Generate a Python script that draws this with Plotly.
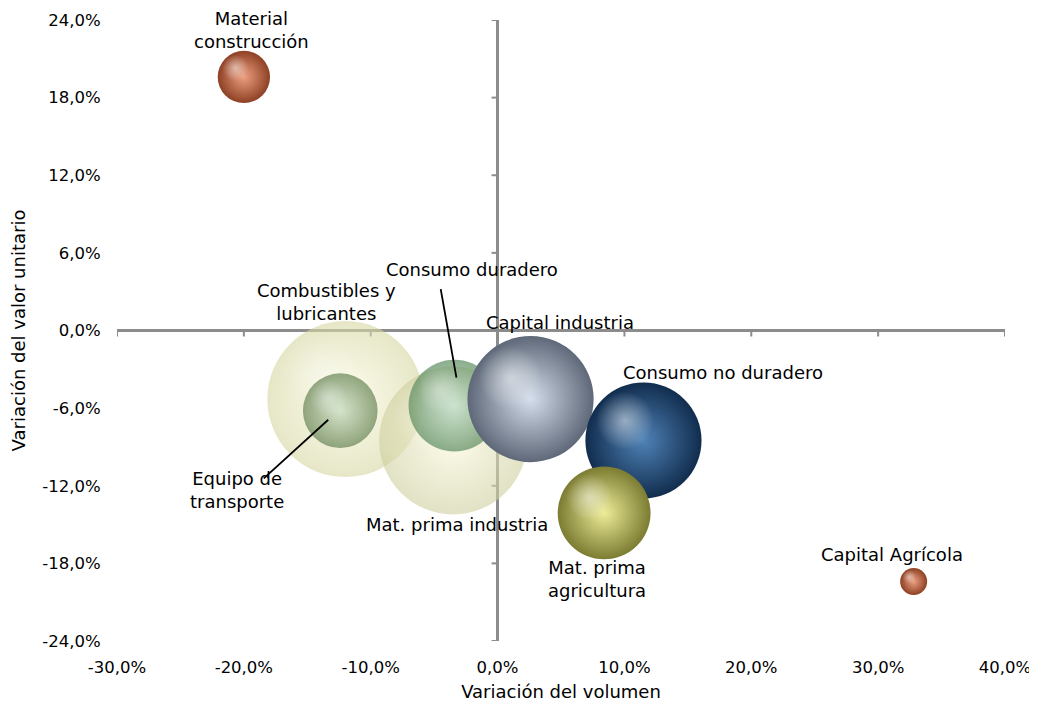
"""
Burbujas: variación del volumen vs variación del valor unitario
"""
import math
import plotly.graph_objects as go

# --- datos ---
categorias = ["Combustibles y lubricantes", "Equipo de transporte", "Mat. prima industria",
              "Consumo duradero", "Capital industria", "Consumo no duradero",
              "Mat. prima agricultura", "Material construcción", "Capital Agrícola"]
etiquetas = ["Combustibles y<br>lubricantes", "Equipo de<br>transporte", "Mat. prima industria",
             "Consumo duradero", "Capital industria", "Consumo no duradero",
             "Mat. prima<br>agricultura", "Material<br>construcción", "Capital Agrícola"]
var_volumen = [-12.0, -12.4, -3.5, -3.4, 2.6, 11.5, 8.4, -20.0, 32.8]
var_valor = [-5.3, -6.2, -8.5, -5.8, -5.3, -8.5, -14.1, 19.6, -19.4]
peso = [24.0, 5.5, 21.6, 8.3, 15.7, 13.3, 8.5, 2.7, 0.72]

x_ticks = [-30, -20, -10, 0, 10, 20, 30, 40]
y_ticks = [-24, -18, -12, -6, 0, 6, 12, 18, 24]

# --- estilo ---
# la página tiene 8px de margen en el body
W, H = 1029, 694
M = dict(l=109, r=32, t=12, b=61)
FONT = "DejaVu Sans"
AXIS_COLOR = "#8c8c8c"

# (color borde, color centro, opacidad)
colores = [
    ("#d6d6a2", "#fbfbe2", 0.6),    # Combustibles
    ("#6f8a5c", "#c8dcc0", 0.75),   # Equipo transporte
    ("#cece9e", "#f8f8dc", 0.6),    # Mat. prima industria
    ("#5a8a5c", "#bcdcc8", 0.7),    # Consumo duradero
    ("#5e6878", "#d4deec", 1.0),    # Capital industria
    ("#112d4e", "#4f82b6", 1.0),    # Consumo no duradero
    ("#7c7c32", "#ecec98", 1.0),    # Mat. prima agricultura
    ("#8e4024", "#eca080", 1.0),    # Material construcción
    ("#8e4024", "#eca080", 1.0),    # Capital Agrícola
]

# desplazamiento del texto respecto del centro de la burbuja (px, y hacia abajo)
offs_texto = [(-19, -97), (-103, 79), (4, 84), (18, -136), (29, -77),
              (80, -68), (-7, 66), (8, -47), (-22, -27)]
# líneas guía: (punta dx, punta dy, ax, ay) respecto del centro
guias = {1: (-12, 9, -66, 60), 3: (2, -28, -16, -90)}

sizeref = 2 * max(peso) / (156 ** 2)
px_x = (W - M["l"] - M["r"]) / (x_ticks[-1] - x_ticks[0])
px_y = (H - M["t"] - M["b"]) / (y_ticks[-1] - y_ticks[0])

fig = go.Figure()

for i, nombre in enumerate(categorias):
    borde, centro, op = colores[i]
    fig.add_trace(go.Scatter(
        x=[var_volumen[i]], y=[var_valor[i]],
        mode='markers', name=nombre,
        marker=dict(size=[peso[i]], sizemode='area', sizeref=sizeref,
                    color=borde, opacity=op, line=dict(width=0),
                    gradient=dict(type='radial', color=centro)),
        hovertemplate=nombre + "<br>Volumen: %{x:.1f}%<br>Valor unitario: %{y:.1f}%<extra></extra>"
    ))
    # brillo
    r = math.sqrt(peso[i] / (2 * sizeref))
    fig.add_trace(go.Scatter(
        x=[var_volumen[i] - 0.32 * r / px_x], y=[var_valor[i] + 0.34 * r / px_y],
        mode='markers', hoverinfo='skip', showlegend=False,
        marker=dict(size=1.0 * r, color='rgba(255,255,255,0)', line=dict(width=0),
                    opacity=op,
                    gradient=dict(type='radial', color='rgba(255,255,255,0.5)'))
    ))

# etiquetas
for i, txt in enumerate(etiquetas):
    dx, dy = offs_texto[i]
    fig.add_annotation(x=var_volumen[i], y=var_valor[i], text=txt, showarrow=False,
                       xshift=dx, yshift=-dy, font=dict(size=18, color="black", family=FONT))
for i, (tx, ty, ax, ay) in guias.items():
    fig.add_annotation(x=var_volumen[i], y=var_valor[i], text="", showarrow=True,
                       xshift=tx, yshift=-ty, ax=ax, ay=ay, arrowhead=0,
                       arrowwidth=1.8, arrowcolor="black")

# marcas de los ejes
for t in x_ticks:
    fig.add_shape(type='line', x0=t, x1=t, y0=0, y1=-6, yanchor=0, ysizemode='pixel',
                  line=dict(color=AXIS_COLOR, width=2), layer='below')
for t in y_ticks:
    fig.add_shape(type='line', y0=t, y1=t, x0=-6, x1=0, xanchor=0, xsizemode='pixel',
                  line=dict(color=AXIS_COLOR, width=2), layer='below')

fmt = lambda v: f"{v:.1f}%".replace(".", ",")

fig.update_layout(
    width=W, height=H, margin=M,
    plot_bgcolor="white", paper_bgcolor="white",
    showlegend=False,
    font=dict(family=FONT, size=16.5, color="black"),
    xaxis=dict(range=[x_ticks[0], x_ticks[-1]], tickvals=x_ticks, ticktext=[fmt(v) for v in x_ticks],
               showgrid=False, showline=False, zeroline=True, zerolinecolor=AXIS_COLOR,
               zerolinewidth=2.5, ticks='outside', ticklen=11, tickcolor='rgba(0,0,0,0)',
               automargin=False,
               title=dict(text="Variación del volumen", font=dict(size=18))),
    yaxis=dict(range=[y_ticks[0], y_ticks[-1]], tickvals=y_ticks, ticktext=[fmt(v) for v in y_ticks],
               showgrid=False, showline=False, zeroline=True, zerolinecolor=AXIS_COLOR,
               zerolinewidth=2.5, ticks='outside', ticklen=12, tickcolor='rgba(0,0,0,0)',
               automargin=False,
               title=dict(text="Variación del valor unitario", font=dict(size=18))),
)

fig.write_html("out.html")
